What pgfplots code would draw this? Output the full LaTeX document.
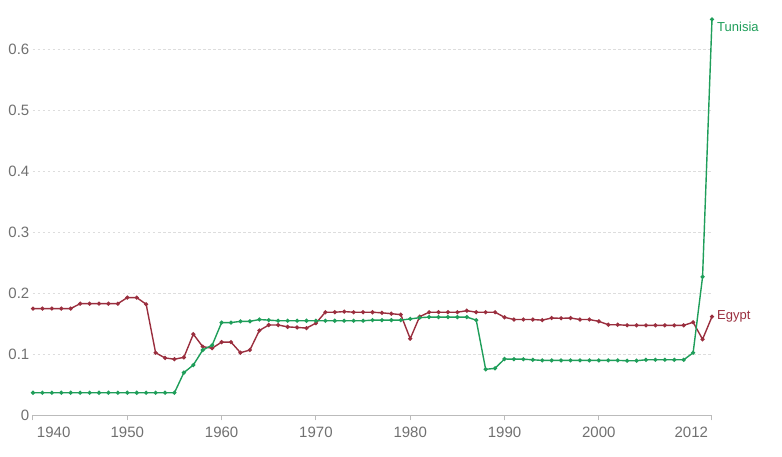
\documentclass[border=0pt]{standalone}
\usepackage{fontspec}
\setmainfont{Liberation Sans}
\usepackage{pgfplots}
\pgfplotsset{compat=1.18}
\definecolor{egc}{HTML}{9A2E3E}
\definecolor{tnc}{HTML}{1F9E5A}
\definecolor{tickgray}{HTML}{707070}
\definecolor{gridc}{HTML}{DDDDDD}
\definecolor{axc}{HTML}{BBBBBB}
\begin{document}
\begin{tikzpicture}
\useasboundingbox (-33bp,-41.7bp) rectangle (749bp,415.3bp);
\begin{axis}[
  scale only axis,
  width=679bp, height=402.6bp,
  xmin=1940, xmax=2012, ymin=0, ymax=0.66,
  clip=false,
  axis x line*=bottom,
  axis y line=none,
  x axis line style={draw=axc, line width=1.2bp, -},
  xtick={1940,1950,1960,1970,1980,1990,2000,2012},
  xticklabels={\makebox[0pt][l]{\hspace{4bp}1940},1950,1960,1970,1980,1990,2000,\makebox[0pt][r]{2012\hspace{4bp}}},
  x tick style={draw=axc, line width=1bp},
  tick align=outside,
  major tick length=5bp,
  xticklabel style={inner sep=0pt, anchor=north, yshift=-6.5bp, font=\fontsize{15bp}{17bp}\selectfont, text=tickgray},
  ytick={0,0.1,0.2,0.3,0.4,0.5,0.6},
  yticklabels={0,0.1,0.2,0.3,0.4,0.5,0.6},
  every axis plot/.append style={line width=1.4bp},
]
% y tick labels and gridlines
\foreach \v/\t in {0/0,0.1/0.1,0.2/0.2,0.3/0.3,0.4/0.4,0.5/0.5,0.6/0.6}{
  \edef\tmp{\noexpand\node[anchor=east, inner sep=0pt, text=tickgray, font=\noexpand\fontsize{15bp}{17bp}\noexpand\selectfont] at (axis cs:1940,\v) [xshift=-3.5bp] {\t};}
  \tmp
}
\foreach \v in {0.1,0.2,0.3,0.4,0.5,0.6}{
  \edef\tmp{\noexpand\draw[gridc, line width=0.8bp, dash pattern=on 2.5bp off 2.5bp] (axis cs:1940,\v) -- (axis cs:2012,\v);}
  \tmp
}
\addplot[color=egc, mark=*, mark size=1.3bp, mark options={solid}] coordinates {
(1940,0.175)(1941,0.175)(1942,0.175)(1943,0.175)(1944,0.175)
(1945,0.183)(1946,0.183)(1947,0.183)(1948,0.183)(1949,0.183)
(1950,0.193)(1951,0.193)(1952,0.182)(1953,0.1026)(1954,0.094)
(1955,0.092)(1956,0.095)(1957,0.133)(1958,0.1125)(1959,0.110)
(1960,0.120)(1961,0.120)(1962,0.1026)(1963,0.107)(1964,0.139)
(1965,0.148)(1966,0.148)(1967,0.145)(1968,0.144)(1969,0.143)
(1970,0.151)(1971,0.169)(1972,0.169)(1973,0.170)(1974,0.169)
(1975,0.169)(1976,0.169)(1977,0.168)(1978,0.1666)(1979,0.165)
(1980,0.1256)(1981,0.1617)(1982,0.169)(1983,0.169)(1984,0.169)
(1985,0.169)(1986,0.1715)(1987,0.169)(1988,0.169)(1989,0.169)
(1990,0.1607)(1991,0.157)(1992,0.157)(1993,0.157)(1994,0.156)
(1995,0.1595)(1996,0.159)(1997,0.1595)(1998,0.157)(1999,0.157)
(2000,0.154)(2001,0.1485)(2002,0.1485)(2003,0.1475)(2004,0.1475)
(2005,0.1475)(2006,0.1475)(2007,0.1475)(2008,0.1475)(2009,0.1475)
(2010,0.1525)(2011,0.1246)(2012,0.1617)
};
\addplot[color=tnc, mark=*, mark size=1.3bp, mark options={solid}] coordinates {
(1940,0.037)(1941,0.037)(1942,0.037)(1943,0.037)(1944,0.037)
(1945,0.037)(1946,0.037)(1947,0.037)(1948,0.037)(1949,0.037)
(1950,0.037)(1951,0.037)(1952,0.037)(1953,0.037)(1954,0.037)
(1955,0.037)(1956,0.070)(1957,0.0824)(1958,0.107)(1959,0.115)
(1960,0.152)(1961,0.152)(1962,0.154)(1963,0.154)(1964,0.157)
(1965,0.156)(1966,0.155)(1967,0.155)(1968,0.155)(1969,0.155)
(1970,0.155)(1971,0.155)(1972,0.155)(1973,0.155)(1974,0.155)
(1975,0.155)(1976,0.156)(1977,0.156)(1978,0.156)(1979,0.156)
(1980,0.158)(1981,0.160)(1982,0.161)(1983,0.161)(1984,0.161)
(1985,0.161)(1986,0.161)(1987,0.156)(1988,0.0754)(1989,0.077)
(1990,0.0923)(1991,0.092)(1992,0.092)(1993,0.091)(1994,0.090)
(1995,0.090)(1996,0.090)(1997,0.090)(1998,0.090)(1999,0.090)
(2000,0.090)(2001,0.090)(2002,0.090)(2003,0.0895)(2004,0.0895)
(2005,0.091)(2006,0.091)(2007,0.091)(2008,0.091)(2009,0.091)
(2010,0.1026)(2011,0.227)(2012,0.649)
};
\node[anchor=north west, inner sep=0pt, text=tnc, font=\fontsize{13bp}{15bp}\selectfont] at (axis cs:2012,0.649) [xshift=5bp, yshift=-2bp] {Tunisia};
\node[anchor=west, inner sep=0pt, text=egc, font=\fontsize{13bp}{15bp}\selectfont] at (axis cs:2012,0.1617) [xshift=5bp, yshift=0bp] {Egypt};
\end{axis}
\end{tikzpicture}
\end{document}
